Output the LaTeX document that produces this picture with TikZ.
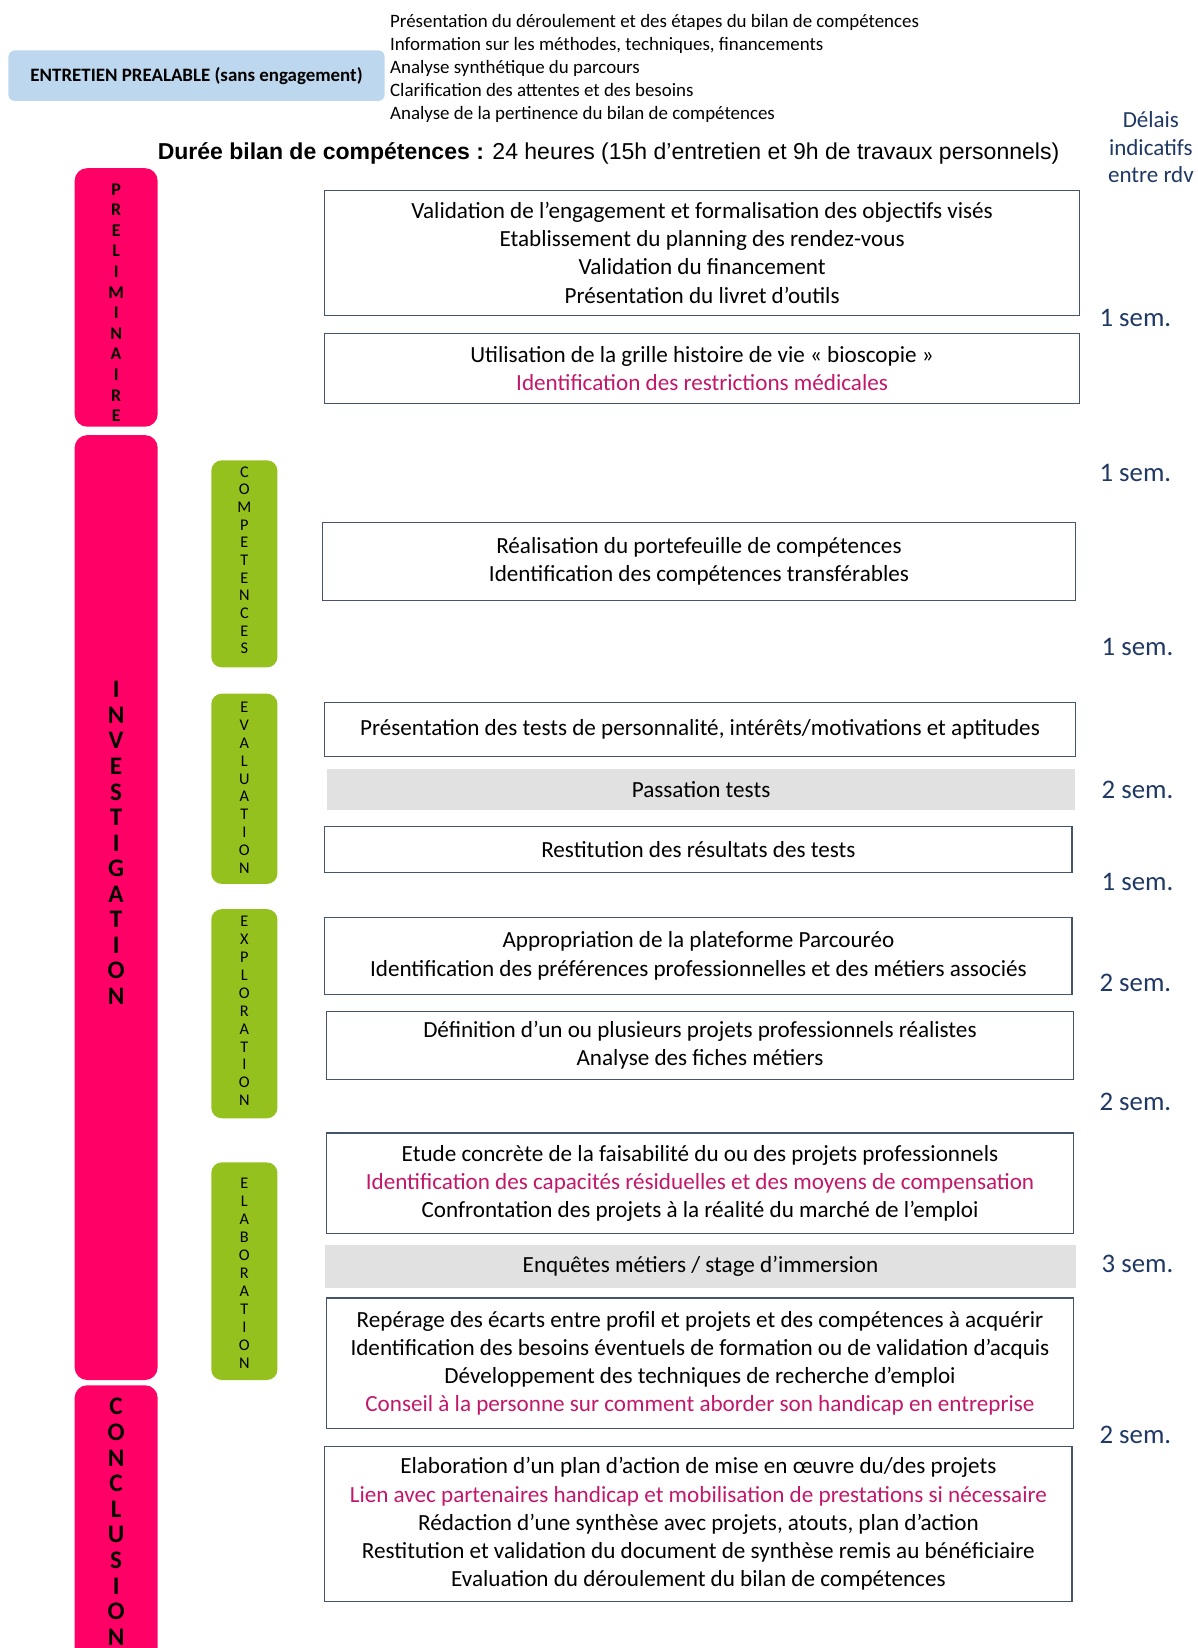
\documentclass[tikz,border=0pt]{standalone}
\usepackage{fontspec}
\setmainfont{Carlito}
\newfontfamily\arialf{Liberation Sans}
\definecolor{pinkbar}{HTML}{FF0066}
\definecolor{greenbar}{HTML}{95C11F}
\definecolor{lightblue}{HTML}{BDD7EE}
\definecolor{greyfill}{HTML}{E1E1E1}
\definecolor{pinktext}{HTML}{C2186B}
\definecolor{navytext}{HTML}{1F3864}
\definecolor{boxborder}{HTML}{44546A}
\tikzset{
  stepbox/.style={draw=boxborder, line width=1.1pt, fill=white, inner sep=0pt, align=center,
    font=\fontsize{22}{26.8}\selectfont},
  greybox/.style={fill=greyfill, inner sep=0pt, align=center, font=\fontsize{22}{26.8}\selectfont},
  pinkphase/.style={fill=pinkbar, rounded corners=12pt, minimum width=79pt, inner sep=0pt},
  greenphase/.style={fill=greenbar, rounded corners=10pt, minimum width=63pt, inner sep=0pt},
  pinkletters/.style={align=center, inner sep=0pt},
  semlabel/.style={text=navytext, anchor=west, inner sep=0pt, font=\fontsize{25.5}{28}\selectfont},
}
\newcommand{\pk}[1]{\textcolor{pinktext}{#1}}
\begin{document}
\begin{tikzpicture}[x=1pt,y=-1pt]
\useasboundingbox (0,0) rectangle (1139,1568);
\begin{scope}
\clip (0,0) rectangle (1139,1568);

% top
\node (entretien) [fill=lightblue, rounded corners=6pt, minimum width=358pt, minimum height=48pt, inner sep=0pt,
  font=\fontsize{18}{20}\selectfont\bfseries] at (187,72) {ENTRETIEN PREALABLE (sans engagement)};
\node (intro) [anchor=west, align=left, inner sep=0pt, font=\fontsize{18}{21.8}\selectfont] at (371,65)
  {Présentation du déroulement et des étapes du bilan de compétences\\
   Information sur les méthodes, techniques, financements\\
   Analyse synthétique du parcours\\
   Clarification des attentes et des besoins\\
   Analyse de la pertinence du bilan de compétences};
\node (titre) [inner sep=0pt, font=\arialf\fontsize{21.9}{24}\selectfont] at (579,146)
  {\textbf{Durée bilan de compétences :} 24 heures (15h d’entretien et 9h de travaux personnels)};
\node (delais) [text=navytext, align=center, inner sep=0pt, font=\fontsize{21.9}{26.5}\selectfont] at (1095,140)
  {Délais\\indicatifs\\entre rdv};

% pink phases
\node (pre) [pinkphase, minimum height=246pt] at (110.5,283) {};
\node (preL) [pinkletters, font=\fontsize{17}{19.6}\selectfont\bfseries] at (110.5,288)
  {P\\R\\E\\L\\I\\M\\I\\N\\A\\I\\R\\E};
\node (inv) [pinkphase, minimum height=899pt] at (110.5,863.5) {};
\node (invL) [pinkletters, font=\fontsize{24}{24.3}\selectfont\bfseries] at (110.5,802)
  {I\\N\\V\\E\\S\\T\\I\\G\\A\\T\\I\\O\\N};
\node (conc) [pinkphase, minimum height=280pt] at (110.5,1458) {};
\node (concL) [pinkletters, font=\fontsize{24}{24.4}\selectfont\bfseries] at (110.5,1448)
  {C\\O\\N\\C\\L\\U\\S\\I\\O\\N};

% green phases
\node (comp) [greenphase, minimum height=197pt] at (232.5,536.5) {};
\node (compL) [pinkletters, font=\fontsize{15.5}{16.8}\selectfont] at (232.5,533)
  {C\\O\\M\\P\\E\\T\\E\\N\\C\\E\\S};
\node (eval) [greenphase, minimum height=181pt] at (232.5,750.5) {};
\node (evalL) [pinkletters, font=\fontsize{15.5}{17}\selectfont] at (232.5,749.5)
  {E\\V\\A\\L\\U\\A\\T\\I\\O\\N};
\node (expl) [greenphase, minimum height=199pt] at (232.5,964.5) {};
\node (explL) [pinkletters, font=\fontsize{15.5}{17}\selectfont] at (232.5,962)
  {E\\X\\P\\L\\O\\R\\A\\T\\I\\O\\N};
\node (elab) [greenphase, minimum height=207pt] at (232.5,1209.5) {};
\node (elabL) [pinkletters, font=\fontsize{15.5}{17.1}\selectfont] at (232.5,1211.5)
  {E\\L\\A\\B\\O\\R\\A\\T\\I\\O\\N};

% step boxes
\node (b1) [stepbox, minimum width=718pt, minimum height=119pt] at (668,240.5)
  {Validation de l’engagement et formalisation des objectifs visés\\
   Etablissement du planning des rendez-vous\\
   Validation du financement\\
   Présentation du livret d’outils};
\node (b2) [stepbox, minimum width=718pt, minimum height=67pt] at (668,350.5)
  {Utilisation de la grille histoire de vie « bioscopie »\\
   \pk{Identification des restrictions médicales}};
\node (b3) [stepbox, minimum width=716pt, minimum height=74pt] at (665,534)
  {Réalisation du portefeuille de compétences\\
   Identification des compétences transférables};
\node (b4) [stepbox, minimum width=714pt, minimum height=52pt] at (666,694)
  {Présentation des tests de personnalité, intérêts/motivations et aptitudes};
\node (b5) [greybox, minimum width=712pt, minimum height=39pt] at (667,751)
  {Passation tests};
\node (b6) [stepbox, minimum width=711pt, minimum height=44pt] at (664.5,808)
  {Restitution des résultats des tests};
\node (b7) [stepbox, minimum width=711pt, minimum height=73pt] at (664.5,909.5)
  {Appropriation de la plateforme Parcouréo\\
   Identification des préférences professionnelles et des métiers associés};
\node (b8) [stepbox, minimum width=710pt, minimum height=65pt] at (666,994.5)
  {Définition d’un ou plusieurs projets professionnels réalistes\\
   Analyse des fiches métiers};
\node (b9) [stepbox, minimum width=710pt, minimum height=96pt] at (666,1126)
  {Etude concrète de la faisabilité du ou des projets professionnels\\
   \pk{Identification des capacités résiduelles et des moyens de compensation}\\
   Confrontation des projets à la réalité du marché de l’emploi};
\node (b10) [greybox, minimum width=715pt, minimum height=40pt] at (666.5,1205)
  {Enquêtes métiers / stage d’immersion};
\node (b11) [stepbox, minimum width=710pt, minimum height=124pt] at (666,1297)
  {Repérage des écarts entre profil et projets et des compétences à acquérir\\
   Identification des besoins éventuels de formation ou de validation d’acquis\\
   Développement des techniques de recherche d’emploi\\
   \pk{Conseil à la personne sur comment aborder son handicap en entreprise}};
\node (b12) [stepbox, minimum width=711pt, minimum height=148pt] at (664.5,1450)
  {Elaboration d’un plan d’action de mise en œuvre du/des projets\\
   \pk{Lien avec partenaires handicap et mobilisation de prestations si nécessaire}\\
   Rédaction d’une synthèse avec projets, atouts, plan d’action\\
   Restitution et validation du document de synthèse remis au bénéficiaire\\
   Evaluation du déroulement du bilan de compétences};

% delays
\node (s1) [semlabel] at (1046,303) {1 sem.};
\node (s2) [semlabel] at (1046,450) {1 sem.};
\node (s3) [semlabel] at (1048,616) {1 sem.};
\node (s4) [semlabel] at (1048,752) {2 sem.};
\node (s5) [semlabel] at (1048,839) {1 sem.};
\node (s6) [semlabel] at (1046,935) {2 sem.};
\node (s7) [semlabel] at (1046,1048) {2 sem.};
\node (s8) [semlabel] at (1048,1203) {3 sem.};
\node (s9) [semlabel] at (1046,1365) {2 sem.};
\end{scope}
\end{tikzpicture}
\end{document}
